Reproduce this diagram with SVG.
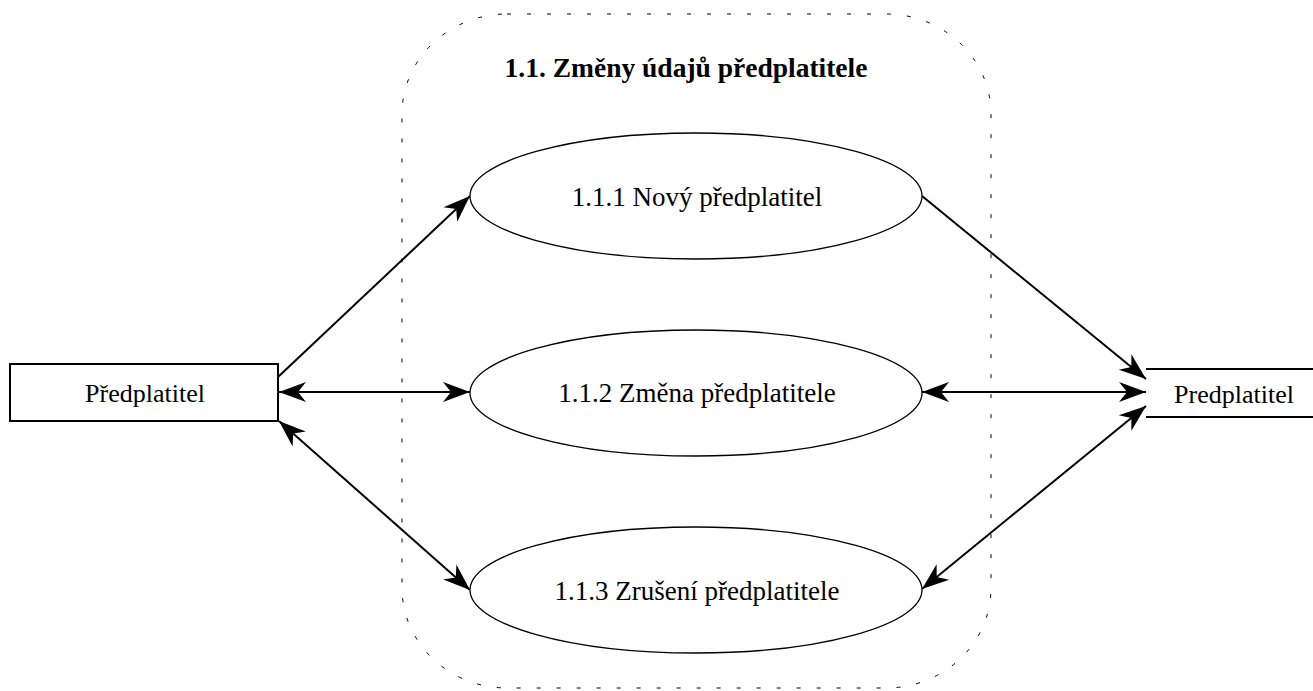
<svg xmlns="http://www.w3.org/2000/svg" width="1313" height="691" viewBox="0 0 1313 691">
<style>
text { font-family: "Liberation Serif", "Times New Roman", serif; font-size: 26px; fill: #000; text-anchor: middle; }
.title { font-weight: bold; font-size: 27.5px; }
.ptext { font-size: 27px; }
.proc { fill: #fff; stroke: #000; stroke-width: 1.3; }
.conn { stroke: #000; stroke-width: 2; fill: none; }
.bound { fill: none; stroke: #000; stroke-width: 1; stroke-dasharray: 4 16; }
</style>
<defs>
<marker id="ah" markerUnits="userSpaceOnUse" markerWidth="32" markerHeight="26" viewBox="-29 -13 32 26" refX="0" refY="0" orient="auto-start-reverse">
<path d="M0,0 L-27,-10 L-19,0 L-27,10 Z" fill="#000"/>
</marker>
</defs>
<rect width="1313" height="691" fill="#fff"/>
<g id="boundary">
<rect class="bound" x="402" y="14" width="589" height="674" rx="105" ry="100"/>
<text class="title" x="686" y="77">1.1. Změny údajů předplatitele</text>
</g>
<g id="connectors">
<line class="conn" x1="278" y1="377" x2="470" y2="196" marker-end="url(#ah)"/>
<line class="conn" x1="279" y1="392" x2="470" y2="392" marker-start="url(#ah)" marker-end="url(#ah)"/>
<line class="conn" x1="279" y1="421" x2="470" y2="590" marker-start="url(#ah)" marker-end="url(#ah)"/>
<line class="conn" x1="922" y1="196" x2="1146" y2="379" marker-end="url(#ah)"/>
<line class="conn" x1="922" y1="392" x2="1146" y2="392" marker-start="url(#ah)" marker-end="url(#ah)"/>
<line class="conn" x1="922" y1="589" x2="1146" y2="406" marker-start="url(#ah)" marker-end="url(#ah)"/>
</g>
<g id="entity-left">
<rect x="10" y="364" width="268" height="57" fill="#fff" stroke="#000" stroke-width="2"/>
<text x="145" y="402">Předplatitel</text>
</g>
<g id="proc-111">
<ellipse class="proc" cx="696" cy="196" rx="226" ry="63"/>
<text class="ptext" x="697" y="206">1.1.1 Nový předplatitel</text>
</g>
<g id="proc-112">
<ellipse class="proc" cx="696" cy="393" rx="226" ry="63"/>
<text class="ptext" x="697" y="402">1.1.2 Změna předplatitele</text>
</g>
<g id="proc-113">
<ellipse class="proc" cx="696" cy="590" rx="226" ry="63"/>
<text class="ptext" x="697" y="600">1.1.3 Zrušení předplatitele</text>
</g>
<g id="store-right">
<line x1="1146" y1="369" x2="1313" y2="369" stroke="#000" stroke-width="2"/>
<line x1="1146" y1="417" x2="1313" y2="417" stroke="#000" stroke-width="2"/>
<text x="1234" y="403">Predplatitel</text>
</g>
</svg>
